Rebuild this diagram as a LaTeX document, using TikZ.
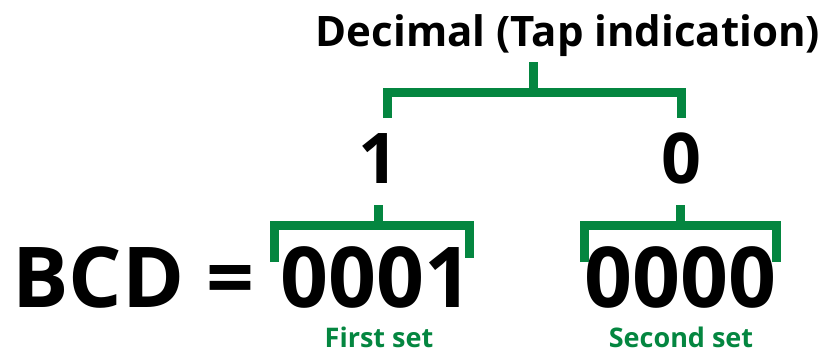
\documentclass[tikz,border=0pt]{standalone}
\usepackage{fontspec}
\setmainfont{Open Sans}
\definecolor{gfg}{RGB}{4,134,64}
\tikzset{
  txt/.style={inner sep=0pt, anchor=base, font=\bfseries},
  brk/.style={draw=gfg, line width=9pt, line cap=butt, line join=miter},
}
\begin{document}
\begin{tikzpicture}[x=1pt,y=-1pt]
\useasboundingbox (0,0) rectangle (824,351);
% texts
\node[txt, font=\fontsize{42}{42}\selectfont\bfseries] (dec) at (568,46) {Decimal (Tap indication)};
\node[txt, font=\fontsize{70}{70}\selectfont\bfseries] (one) at (378,183) {1};
\node[txt, font=\fontsize{70}{70}\selectfont\bfseries] (zero) at (681,183) {0};
\node[txt, anchor=base west, font=\fontsize{84}{84}\selectfont\bfseries] (bcd) at (12,307) {BCD =};
\node[txt, font=\fontsize{84}{84}\selectfont\bfseries] (first) at (376,307) {0001};
\node[txt, font=\fontsize{84}{84}\selectfont\bfseries] (second) at (680,307) {0000};
\node[txt, text=gfg, text depth=0pt, font=\fontsize{27}{27}\selectfont\bfseries] (lfirst) at (379,347) {First set};
\node[txt, text=gfg, text depth=0pt, font=\fontsize{27}{27}\selectfont\bfseries] (lsecond) at (681,347) {Second set};
% bracket coordinates
\coordinate (t0) at (533,62);
\coordinate (t1) at (533,92);
\coordinate (tl) at (387,92);
\coordinate (tr) at (681,92);
\coordinate (tl2) at (387,118);
\coordinate (tr2) at (681,118);
\coordinate (a0) at (378,205);
\coordinate (a1) at (378,225);
\coordinate (al) at (274,225);
\coordinate (ar) at (469,225);
\coordinate (al2) at (274,262);
\coordinate (ar2) at (469,258);
\coordinate (b0) at (680,205);
\coordinate (b1) at (680,225);
\coordinate (bl) at (584,225);
\coordinate (br) at (776,225);
\coordinate (bl2) at (584,262);
\coordinate (br2) at (776,262);
% brackets
\draw[brk] (t0) -- (t1);
\draw[brk] (tl2) -- (tl) -- (tr) -- (tr2);
\draw[brk] (a0) -- (a1);
\draw[brk] (al2) -- (al) -- (ar) -- (ar2);
\draw[brk] (b0) -- (b1);
\draw[brk] (bl2) -- (bl) -- (br) -- (br2);
\end{tikzpicture}
\end{document}
